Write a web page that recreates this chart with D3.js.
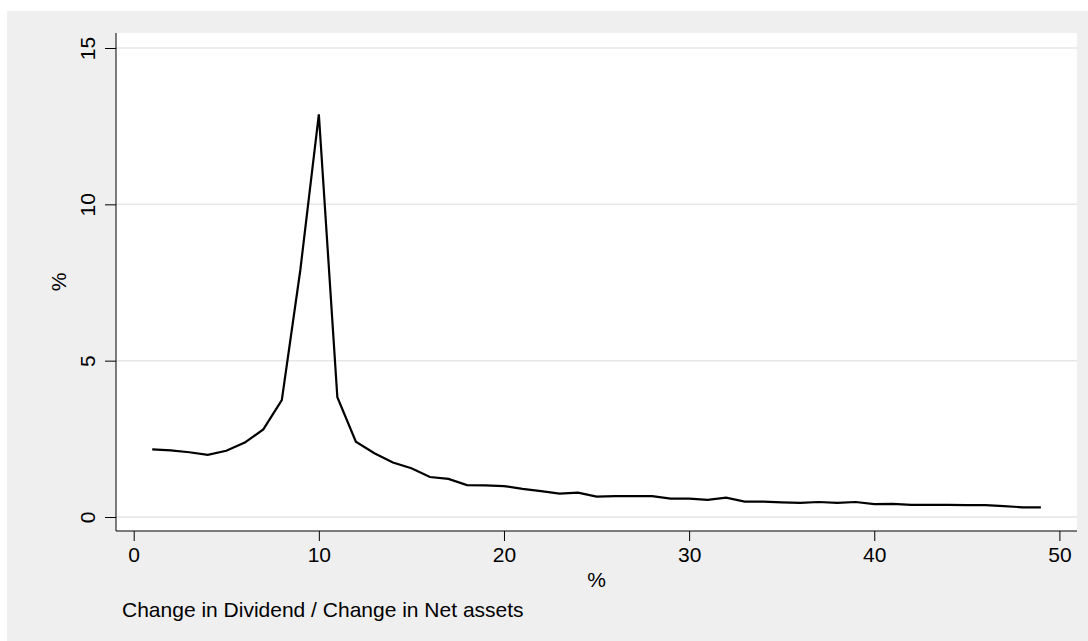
<!DOCTYPE html>
<html>
<head>
<meta charset="utf-8">
<script src="https://cdn.jsdelivr.net/npm/d3@7"></script>
<style>
  html, body { margin: 0; padding: 0; background: #ffffff; }
  svg { display: block; }
  text { font-family: "Liberation Sans", Arial, sans-serif; fill: #000; }
</style>
</head>
<body>
<svg id="chart" width="1088" height="641"></svg>
<script>
// ---- data ----
const xValues = [1,2,3,4,5,6,7,8,9,10,11,12,13,14,15,16,17,18,19,20,21,22,23,24,25,26,27,28,29,30,31,32,33,34,35,36,37,38,39,40,41,42,43,44,45,46,47,48,49];
const yValues = [2.16,2.13,2.07,1.99,2.12,2.38,2.80,3.74,7.90,12.88,3.83,2.41,2.04,1.74,1.56,1.28,1.22,1.02,1.01,0.99,0.90,0.83,0.75,0.78,0.65,0.67,0.67,0.67,0.59,0.59,0.55,0.62,0.49,0.49,0.47,0.45,0.48,0.45,0.48,0.41,0.42,0.39,0.39,0.39,0.38,0.38,0.35,0.31,0.31];
const xTicks = [0,10,20,30,40,50];
const yTicks = [0,5,10,15];
const xTitle = "%";
const yTitle = "%";
const note = "Change in Dividend / Change in Net assets";

// ---- layout ----
const svg = d3.select("#chart");
const W = 1088, H = 641;
const outer = {x: 7, y: 11, w: W - 7, h: H - 11};
const plot = {left: 116, right: 1077, top: 33, bottom: 531};

svg.append("rect").attr("x", outer.x).attr("y", outer.y)
   .attr("width", outer.w).attr("height", outer.h).attr("fill", "#efefef");
svg.append("rect").attr("x", plot.left).attr("y", plot.top)
   .attr("width", plot.right - plot.left).attr("height", plot.bottom - plot.top)
   .attr("fill", "#ffffff");

const x = d3.scaleLinear().domain([0, 50]).range([133.7, 1059.4]);
const y = d3.scaleLinear().domain([0, 15]).range([517, 48]);

// gridlines
svg.append("g").selectAll("line").data(yTicks).join("line")
   .attr("x1", plot.left).attr("x2", plot.right)
   .attr("y1", d => y(d)).attr("y2", d => y(d))
   .attr("stroke", "#e6e6e6").attr("stroke-width", 1.5);

// y axis
const yAxis = d3.axisLeft(y).tickValues(yTicks).tickSize(11).tickPadding(10).tickFormat(d3.format("d"));
const gy = svg.append("g").attr("transform", `translate(${plot.left},0)`).call(yAxis);
gy.select(".domain").remove();
gy.selectAll(".tick line").attr("stroke", "#000").attr("stroke-width", 1);
gy.selectAll(".tick text")
  .attr("font-size", 21).attr("fill", "#000")
  .attr("text-anchor", "middle")
  .attr("dy", 0)
  .attr("transform", function(d) { return `translate(${-21 - 0},0) rotate(-90)`; })
  .attr("x", 0).attr("y", 0);
svg.append("line").attr("x1", plot.left).attr("x2", plot.left)
   .attr("y1", plot.top).attr("y2", plot.bottom).attr("stroke", "#000").attr("stroke-width", 1);

// x axis
const xAxis = d3.axisBottom(x).tickValues(xTicks).tickSize(10).tickPadding(6).tickFormat(d3.format("d"));
const gx = svg.append("g").attr("transform", `translate(0,${plot.bottom})`).call(xAxis);
gx.select(".domain").remove();
gx.selectAll(".tick line").attr("stroke", "#000").attr("stroke-width", 1);
gx.selectAll(".tick text").attr("font-size", 21).attr("fill", "#000").attr("dy", "0.71em");
svg.append("line").attr("x1", plot.left).attr("x2", plot.right)
   .attr("y1", plot.bottom).attr("y2", plot.bottom).attr("stroke", "#000").attr("stroke-width", 1);

// titles
svg.append("text").attr("x", (plot.left + plot.right) / 2).attr("y", 587)
   .attr("text-anchor", "middle").attr("font-size", 21).text(xTitle);
svg.append("text").attr("transform", `translate(66,${(plot.top + plot.bottom) / 2}) rotate(-90)`)
   .attr("text-anchor", "middle").attr("font-size", 21).text(yTitle);
svg.append("text").attr("x", 122).attr("y", 617).attr("font-size", 21).text(note);

// line
const line = d3.line().x((d, i) => x(xValues[i])).y(d => y(d));
svg.append("path").datum(yValues).attr("d", line)
   .attr("fill", "none").attr("stroke", "#000").attr("stroke-width", 2.2)
   .attr("stroke-linejoin", "miter");
</script>
</body>
</html>
